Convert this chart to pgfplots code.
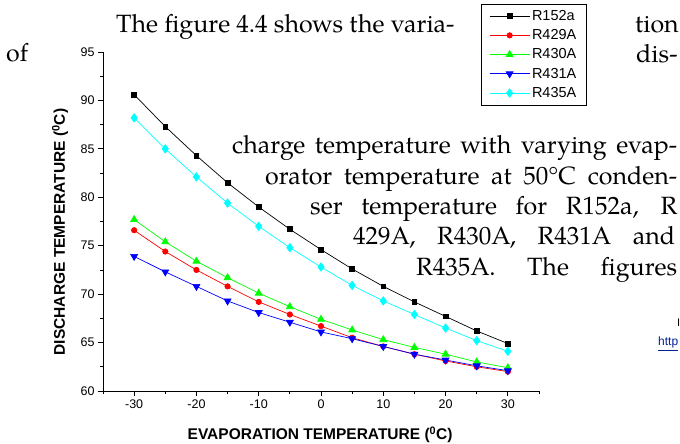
\documentclass[border=0pt]{standalone}
\usepackage{fontspec}
\setmainfont{Liberation Sans}
\newfontfamily\pal{TeX Gyre Pagella}
\usepackage{pgfplots}
\pgfplotsset{compat=1.18}
\definecolor{linkblue}{RGB}{0,32,150}
\definecolor{refcyan}{RGB}{0,255,255}
\definecolor{refgreen}{RGB}{0,255,0}
\definecolor{refred}{RGB}{255,0,0}
\definecolor{refblue}{RGB}{0,0,255}

\begin{document}
\begin{tikzpicture}[x=1pt,y=1pt]
\begin{axis}[
  scale only axis, width=436pt, height=339pt,
  xmin=-35, xmax=35, ymin=60, ymax=95,
  axis x line*=bottom, axis y line*=left,
  xtick={-30,-20,...,30}, minor xtick={-35,-25,...,35},
  ytick={60,65,...,95}, minor ytick={62.5,67.5,...,92.5},
  tick align=outside, major tick length=5pt, minor tick length=3pt,
  every tick/.style={black, line width=0.8pt},
  axis line style={line width=0.8pt},
  ticklabel style={font=\fontsize{12.5}{14}\selectfont},
  /pgf/number format/assume math mode=true,
  xlabel={EVAPORATION TEMPERATURE (\textsuperscript{0}C)},
  ylabel={DISCHARGE TEMPERATURE (\textsuperscript{0}C)},
  xlabel style={at={(axis description cs:0.498,-0.130)}, anchor=center, font=\bfseries\fontsize{15.5}{17}\selectfont},
  ylabel style={at={(axis description cs:-0.0986,0.469)}, anchor=center, font=\bfseries\fontsize{15.5}{17}\selectfont},
  legend style={at={(axis description cs:0.867,1.1415)}, anchor=north west, draw=black, line width=0.6pt, fill=white,
    font=\fontsize{14.5}{16}\selectfont, inner xsep=8pt, inner ysep=4pt, row sep=3.6pt,
    /tikz/every even column/.append style={column sep=3pt}},
  legend cell align=left,
  legend image code/.code={\draw[mark repeat=2,mark phase=2,#1] plot coordinates {(0pt,0pt)(20pt,0pt)(40pt,0pt)};},
  every axis plot/.append style={line width=0.7pt},
]
\coordinate (O) at (rel axis cs:0,0);
\addplot[black, mark=square*, mark size=2.4pt, mark options={fill=black}] coordinates {
(-30,90.6) (-25,87.3) (-20,84.3) (-15,81.5) (-10,79.0) (-5,76.7) (0,74.6) (5,72.6) (10,70.8) (15,69.2) (20,67.7) (25,66.2) (30,64.9)};
\addlegendentry{R152a}
\addplot[refred, mark=*, mark size=2.7pt, mark options={fill=refred}] coordinates {
(-30,76.6) (-25,74.4) (-20,72.5) (-15,70.8) (-10,69.2) (-5,67.9) (0,66.7) (5,65.5) (10,64.6) (15,63.8) (20,63.1) (25,62.5) (30,62.0)};
\addlegendentry{R429A}
\addplot[refgreen, mark=triangle*, mark size=4pt, mark options={fill=refgreen}] coordinates {
(-30,77.7) (-25,75.4) (-20,73.4) (-15,71.7) (-10,70.1) (-5,68.7) (0,67.4) (5,66.3) (10,65.3) (15,64.5) (20,63.8) (25,63.0) (30,62.4)};
\addlegendentry{R430A}
\addplot[refblue, mark=triangle*, mark size=4pt, mark options={fill=refblue, rotate=180}] coordinates {
(-30,73.9) (-25,72.3) (-20,70.8) (-15,69.3) (-10,68.1) (-5,67.1) (0,66.1) (5,65.4) (10,64.6) (15,63.8) (20,63.2) (25,62.6) (30,62.1)};
\addlegendentry{R431A}
\addplot[refcyan, mark=diamond*, mark size=4.2pt, mark options={fill=refcyan}] coordinates {
(-30,88.2) (-25,85.0) (-20,82.1) (-15,79.4) (-10,77.0) (-5,74.8) (0,72.8) (5,70.9) (10,69.3) (15,67.9) (20,66.5) (25,65.2) (30,64.1)};
\addlegendentry{R435A}
\end{axis}

% overlay text; coordinates: X = x_px - 103, Y = 391 - baseline_px
\begin{scope}[shift={(O)}]
\begin{scope}[every node/.style={inner sep=0pt, anchor=base west, font=\pal\fontsize{25}{30}\selectfont}]
\node at (13,358) {The figure 4.4 shows the varia-};
\node at (532,358) {tion};
\node at (-97,329) {of};
\node at (533,328) {dis-};
\node at (129,237) {\makebox[445pt][s]{charge temperature with varying evap-}};
\node at (162,206) {\makebox[412pt][s]{orator temperature at 50°C conden-}};
\node at (207,176) {\makebox[367pt][s]{ser temperature for R152a, R}};
\node at (250,146) {\makebox[322pt][s]{429A, R430A, R431A and}};
\node at (313,115) {\makebox[261pt][s]{R435A. The figures}};
\end{scope}
\node[inner sep=0pt, anchor=base west, font=\fontsize{11}{13}\selectfont] at (574,64) {I};
\node[inner sep=0pt, anchor=base west, font=\fontsize{12}{14}\selectfont, text=linkblue] at (555,45) {\underline{http}};
\pgfresetboundingbox
\useasboundingbox (-103,-53) rectangle (577,391);
\end{scope}
\end{tikzpicture}
\end{document}
